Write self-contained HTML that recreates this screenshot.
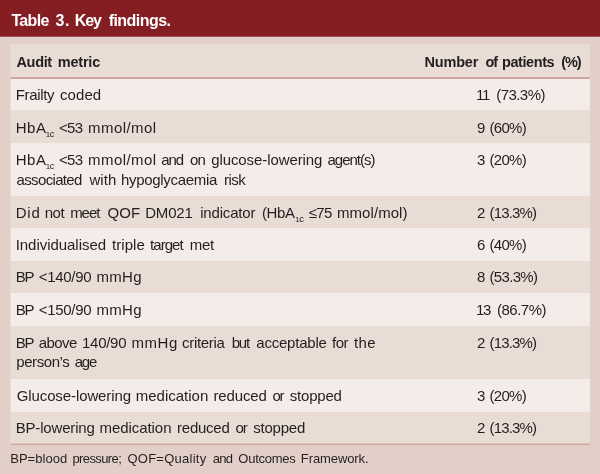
<!DOCTYPE html>
<html><head><meta charset="utf-8">
<style>
html,body{margin:0;padding:0;}
body{width:600px;height:474px;background:#e2d0c8;font-family:"Liberation Sans",sans-serif;color:#231f20;overflow:hidden;position:relative;}
.band{position:absolute;left:0;top:0;width:600px;height:36px;background:#851e23;}
.row{position:absolute;left:11px;width:579px;}
.ln{position:absolute;left:0;width:600px;height:20px;line-height:20px;white-space:nowrap;}
.ln span{position:absolute;top:0;}
.sb{position:absolute;font-size:9.4px;line-height:12px;height:12px;white-space:nowrap;}
.sb i{font-style:normal;font-size:8px;letter-spacing:-0.5px;}
</style></head><body>
<div class="band"></div>
<div class="row" style="top:44px;height:33px;background:#e9dcd5;box-shadow:-1px 0 0 #e9dcd580"></div>
<div class="row" style="top:79px;height:31px;background:#f4ece8;box-shadow:-1px 0 0 #f4ece880"></div>
<div class="row" style="top:110px;height:33px;background:#e9dcd5;box-shadow:-1px 0 0 #e9dcd580"></div>
<div class="row" style="top:143px;height:53px;background:#f4ece8;box-shadow:-1px 0 0 #f4ece880"></div>
<div class="row" style="top:196px;height:32px;background:#e9dcd5;box-shadow:-1px 0 0 #e9dcd580"></div>
<div class="row" style="top:228px;height:33px;background:#f4ece8;box-shadow:-1px 0 0 #f4ece880"></div>
<div class="row" style="top:261px;height:32px;background:#e9dcd5;box-shadow:-1px 0 0 #e9dcd580"></div>
<div class="row" style="top:293px;height:33px;background:#f4ece8;box-shadow:-1px 0 0 #f4ece880"></div>
<div class="row" style="top:326px;height:53px;background:#e9dcd5;box-shadow:-1px 0 0 #e9dcd580"></div>
<div class="row" style="top:379px;height:33px;background:#f4ece8;box-shadow:-1px 0 0 #f4ece880"></div>
<div class="row" style="top:412px;height:31px;background:#e9dcd5;box-shadow:-1px 0 0 #e9dcd580"></div>
<div class="row" style="top:77px;height:2px;background:#cfa79c"></div>
<div class="row" style="top:443px;height:1px;background:#dcc1b8"></div>
<div class="row" style="top:444px;height:1px;background:#cfa79c"></div>
<div class="row" style="top:445px;height:1px;background:#e0ccc4"></div>
<div style="position:absolute;left:0;top:36px;width:600px;height:1px;background:#a15355"></div>
<div class="ln" style="top:11.00px;font-size:16px;font-weight:bold;color:#fff;"><span style="left:11.4px;letter-spacing:-0.65px;">Table </span><span style="left:55.5px;letter-spacing:0.60px;">3. </span><span style="left:74.7px;letter-spacing:-1.08px;">Key </span><span style="left:108.7px;letter-spacing:-0.55px;">findings.</span></div>
<div class="ln" style="top:52.00px;font-size:14.5px;font-weight:bold;"><span style="left:16.5px;letter-spacing:-0.35px;">Audit </span><span style="left:57.7px;letter-spacing:-0.19px;">metric</span></div>
<div class="ln" style="top:52.00px;font-size:14.5px;font-weight:bold;"><span style="left:424.6px;letter-spacing:-0.21px;">Number </span><span style="left:485.6px;letter-spacing:-1.20px;">of </span><span style="left:502.0px;letter-spacing:-0.42px;">patients </span><span style="left:561.2px;letter-spacing:-1.11px;">(%)</span></div>
<div class="ln" style="top:85.00px;font-size:15px;"><span style="left:15.7px;letter-spacing:-0.34px;">Frailty </span><span style="left:60.0px;letter-spacing:0.07px;">coded</span></div>
<div class="ln" style="top:85.00px;font-size:15px;"><span style="left:475.9px;letter-spacing:-1.20px;">11 </span><span style="left:496.3px;letter-spacing:-0.57px;">(73.3%)</span></div>
<div class="ln" style="top:118.00px;font-size:15px;"><span style="left:15.7px;letter-spacing:0.56px;">HbA </span><span style="left:59.0px;letter-spacing:-0.70px;">&lt;53 </span><span style="left:88.0px;letter-spacing:0.45px;">mmol/mol</span></div>
<div class="ln" style="top:118.00px;font-size:15px;"><span style="left:476.9px;">9 </span><span style="left:489.5px;letter-spacing:-0.70px;">(60%)</span></div>
<div class="ln" style="top:150.00px;font-size:15px;"><span style="left:15.7px;letter-spacing:0.56px;">HbA </span><span style="left:59.0px;letter-spacing:-0.70px;">&lt;53 </span><span style="left:88.0px;letter-spacing:0.45px;">mmol/mol </span><span style="left:161.2px;letter-spacing:-1.04px;">and </span><span style="left:190.0px;letter-spacing:-0.84px;">on </span><span style="left:211.2px;letter-spacing:-0.09px;">glucose-lowering </span><span style="left:327.5px;letter-spacing:-1.00px;">agent(s)</span></div>
<div class="ln" style="top:170.00px;font-size:15px;"><span style="left:16.6px;letter-spacing:-0.66px;">associated </span><span style="left:89.4px;letter-spacing:0.09px;">with </span><span style="left:121.0px;letter-spacing:-0.31px;">hypoglycaemia </span><span style="left:224.0px;letter-spacing:-0.54px;">risk</span></div>
<div class="ln" style="top:150.00px;font-size:15px;"><span style="left:476.9px;">3 </span><span style="left:489.5px;letter-spacing:-0.70px;">(20%)</span></div>
<div class="ln" style="top:203.00px;font-size:15px;"><span style="left:15.7px;letter-spacing:0.82px;">Did </span><span style="left:44.7px;letter-spacing:-0.44px;">not </span><span style="left:70.2px;letter-spacing:-1.06px;">meet </span><span style="left:107.5px;letter-spacing:0.08px;">QOF </span><span style="left:145.2px;letter-spacing:-0.18px;">DM021 </span><span style="left:200.2px;letter-spacing:-0.18px;">indicator </span><span style="left:262.0px;letter-spacing:-0.39px;">(HbA </span><span style="left:308.7px;letter-spacing:-0.64px;">≤75 </span><span style="left:337.0px;letter-spacing:0.06px;">mmol/mol)</span></div>
<div class="ln" style="top:203.00px;font-size:15px;"><span style="left:476.9px;">2 </span><span style="left:489.5px;letter-spacing:-0.84px;">(13.3%)</span></div>
<div class="ln" style="top:235.00px;font-size:15px;"><span style="left:15.7px;letter-spacing:-0.04px;">Individualised </span><span style="left:112.0px;letter-spacing:0.07px;">triple </span><span style="left:150.0px;letter-spacing:-0.94px;">target </span><span style="left:189.7px;letter-spacing:-0.27px;">met</span></div>
<div class="ln" style="top:235.00px;font-size:15px;"><span style="left:476.9px;">6 </span><span style="left:489.5px;letter-spacing:-0.70px;">(40%)</span></div>
<div class="ln" style="top:267.00px;font-size:15px;"><span style="left:15.7px;letter-spacing:-1.20px;">BP </span><span style="left:38.7px;letter-spacing:-0.30px;">&lt;140/90 </span><span style="left:96.5px;letter-spacing:0.29px;">mmHg</span></div>
<div class="ln" style="top:267.00px;font-size:15px;"><span style="left:476.9px;">8 </span><span style="left:489.5px;letter-spacing:-0.67px;">(53.3%)</span></div>
<div class="ln" style="top:300.00px;font-size:15px;"><span style="left:15.7px;letter-spacing:-1.20px;">BP </span><span style="left:38.7px;letter-spacing:-0.30px;">&lt;150/90 </span><span style="left:96.5px;letter-spacing:0.29px;">mmHg</span></div>
<div class="ln" style="top:300.00px;font-size:15px;"><span style="left:475.9px;letter-spacing:-1.20px;">13 </span><span style="left:497.0px;letter-spacing:-0.50px;">(86.7%)</span></div>
<div class="ln" style="top:333.00px;font-size:15px;"><span style="left:15.7px;letter-spacing:-1.20px;">BP </span><span style="left:38.7px;letter-spacing:-0.56px;">above </span><span style="left:82.0px;letter-spacing:-0.27px;">140/90 </span><span style="left:131.5px;letter-spacing:0.56px;">mmHg </span><span style="left:182.0px;letter-spacing:-0.31px;">criteria </span><span style="left:231.7px;letter-spacing:-1.20px;">but </span><span style="left:256.3px;letter-spacing:-0.22px;">acceptable </span><span style="left:332.0px;letter-spacing:-0.50px;">for </span><span style="left:354.0px;letter-spacing:0.35px;">the</span></div>
<div class="ln" style="top:352.00px;font-size:15px;"><span style="left:16.3px;letter-spacing:-0.43px;">person’s </span><span style="left:74.7px;letter-spacing:-1.20px;">age</span></div>
<div class="ln" style="top:333.00px;font-size:15px;"><span style="left:476.9px;">2 </span><span style="left:489.5px;letter-spacing:-0.84px;">(13.3%)</span></div>
<div class="ln" style="top:386.00px;font-size:15px;"><span style="left:16.7px;letter-spacing:-0.10px;">Glucose-lowering </span><span style="left:135.7px;letter-spacing:0.01px;">medication </span><span style="left:213.5px;letter-spacing:-0.14px;">reduced </span><span style="left:272.4px;letter-spacing:-1.20px;">or </span><span style="left:289.7px;letter-spacing:-0.19px;">stopped</span></div>
<div class="ln" style="top:386.00px;font-size:15px;"><span style="left:476.9px;">3 </span><span style="left:489.5px;letter-spacing:-0.70px;">(20%)</span></div>
<div class="ln" style="top:418.00px;font-size:15px;"><span style="left:15.7px;letter-spacing:-0.17px;">BP-lowering </span><span style="left:99.5px;letter-spacing:-0.06px;">medication </span><span style="left:177.0px;letter-spacing:-0.23px;">reduced </span><span style="left:235.5px;letter-spacing:-1.14px;">or </span><span style="left:253.2px;letter-spacing:-0.21px;">stopped</span></div>
<div class="ln" style="top:418.00px;font-size:15px;"><span style="left:476.9px;">2 </span><span style="left:489.5px;letter-spacing:-0.84px;">(13.3%)</span></div>
<div class="ln" style="top:449.00px;font-size:13px;"><span style="left:10.2px;letter-spacing:0.04px;">BP=blood </span><span style="left:72.5px;letter-spacing:-0.61px;">pressure; </span><span style="left:127.4px;letter-spacing:0.26px;">QOF=Quality </span><span style="left:212.7px;letter-spacing:-0.73px;">and </span><span style="left:238.3px;letter-spacing:-0.25px;">Outcomes </span><span style="left:300.8px;letter-spacing:-0.09px;">Framework.</span></div>
<div class="sb" style="left:45.7px;top:128px"><i>1</i>c</div>
<div class="sb" style="left:45.7px;top:160px"><i>1</i>c</div>
<div class="sb" style="left:295.2px;top:213px"><i>1</i>c</div>
</body></html>
